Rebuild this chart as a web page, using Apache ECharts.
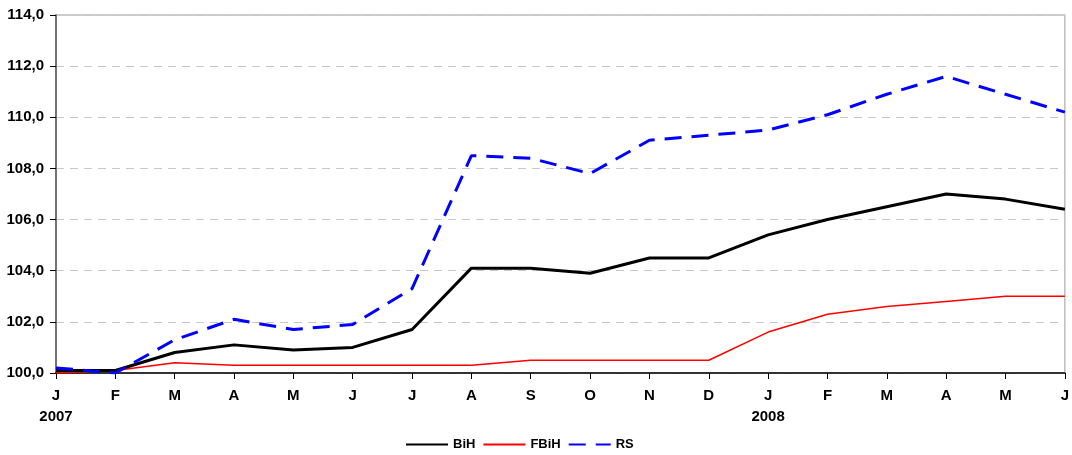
<!DOCTYPE html>
<html><head><meta charset="utf-8">
<script src="https://cdn.jsdelivr.net/npm/echarts@6/dist/echarts.min.js"></script>
<style>html,body{margin:0;padding:0;background:#fff}#c{width:1072px;height:455px}</style>
</head><body><div id="c"></div>
<script>
const months = ['J','F','M','A','M','J','J','A','S','O','N','D','J','F','M','A','M','J'];
const years = {0:'2007', 12:'2008'};
const bih  = [100.1,100.1,100.8,101.1,100.9,101.0,101.7,104.1,104.1,103.9,104.5,104.5,105.4,106.0,106.5,107.0,106.8,106.4];
const fbih = [100.0,100.1,100.4,100.3,100.3,100.3,100.3,100.3,100.5,100.5,100.5,100.5,101.6,102.3,102.6,102.8,103.0,103.0];
const rs   = [100.2,100.0,101.3,102.1,101.7,101.9,103.3,108.5,108.4,107.8,109.1,109.3,109.5,110.1,110.9,111.6,110.9,110.2];
const yMin = 100, yMax = 114, yStep = 2;

const chart = echarts.init(document.getElementById('c'));
const font = 'Liberation Sans, Arial, sans-serif';
chart.setOption({
  animation:false,
  backgroundColor:'#fff',
  grid:{left:56,right:5,top:15,bottom:82,show:true,borderColor:'#bdbdbd',borderWidth:1.5},
  legend:{
    top:433,left:400,itemWidth:42,itemHeight:14,itemGap:7,
    itemStyle:{opacity:0},
    textStyle:{fontFamily:font,fontWeight:'bold',fontSize:13,color:'#000'},
    data:['BiH','FBiH','RS']
  },
  xAxis:{
    type:'category',data:months.map((m,i)=>i),boundaryGap:false,
    axisLine:{lineStyle:{color:'#000',width:1.5}},
    axisTick:{show:true,length:6,lineStyle:{color:'#000',width:1}},
    axisLabel:{
      interval:0,margin:12,fontFamily:font,fontWeight:'bold',fontSize:15,color:'#000',lineHeight:21,
      formatter:(v)=>{const i=+v;return months[i]+(years[i]?'\n'+years[i]:'');}
    },
    splitLine:{show:false}
  },
  yAxis:{
    type:'value',min:yMin,max:yMax,interval:yStep,
    axisLine:{show:true,lineStyle:{color:'#555',width:1.5}},
    axisTick:{show:true,length:6,lineStyle:{color:'#000'}},
    axisLabel:{margin:12,fontFamily:font,fontWeight:'bold',fontSize:15,color:'#000',
      formatter:(v)=>v.toFixed(1).replace('.',',')},
    splitLine:{show:true,lineStyle:{color:'#c8c8c8',type:[8,6],width:1}}
  },
  series:[
    {name:'BiH',type:'line',data:bih,symbol:'none',lineStyle:{color:'#000',width:3},itemStyle:{color:'#000'},z:3},
    {name:'FBiH',type:'line',data:fbih,symbol:'none',lineStyle:{color:'#ff0000',width:1.5},itemStyle:{color:'#ff0000'},z:2},
    {name:'RS',type:'line',data:rs,symbol:'none',lineStyle:{color:'#0000ff',width:3,type:[17,10]},itemStyle:{color:'#0000ff'},z:4}
  ]
});
</script></body></html>
